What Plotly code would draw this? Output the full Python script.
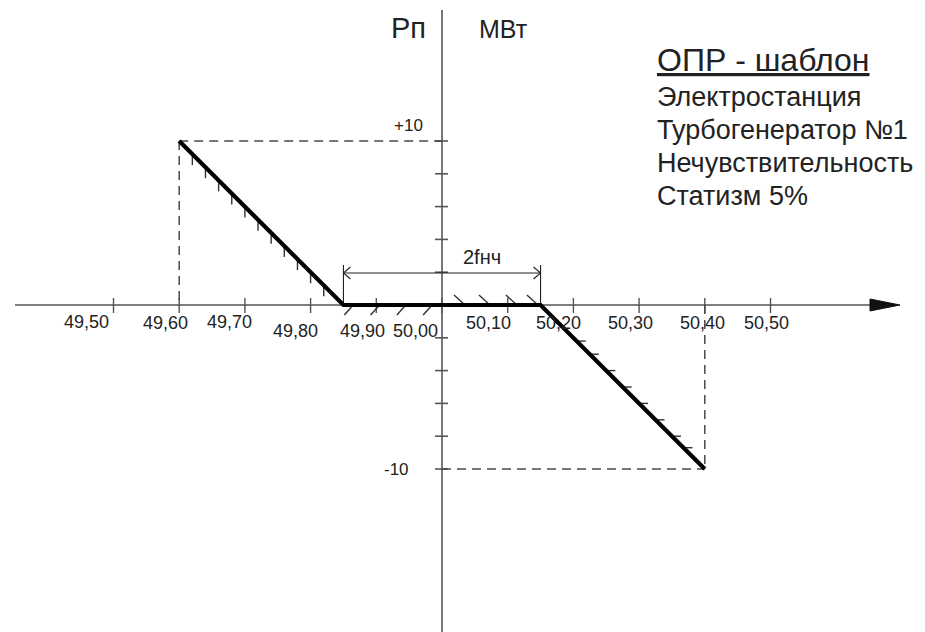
import numpy as np
import plotly.graph_objects as go

# ---------------- data ----------------
freq_ticks = [49.50, 49.60, 49.70, 49.80, 49.90, 50.00, 50.10, 50.20, 50.30, 50.40, 50.50]
freq_labels = ["49,50", "49,60", "49,70", "49,80", "49,90", "50,00",
               "50,10", "50,20", "50,30", "50,40", "50,50"]
power_ticks = [-10, -8, -6, -4, -2, 2, 4, 6, 8, 10]
power_label_vals = [10, -10]
power_label_text = ["+10", "-10"]
curve_f = [49.60, 49.85, 50.15, 50.40]
curve_p = [10, 0, 0, -10]
deadband_label = "2fнч"
axis_symbol = "Pп"
axis_unit = "МВт"
info_title = "ОПР - шаблон"
info_lines = ["Электростанция", "Турбогенератор №1", "Нечувствительность", "Статизм 5%"]

# hatch anchors (on the characteristic)
hatch_left_f = [49.62, 49.64, 49.66, 49.68, 49.70, 49.72, 49.74, 49.76, 49.78, 49.80, 49.82]
hatch_right_p = [-2.2, -3.0, -4.0, -5.0, -6.0, -7.0, -8.0, -8.7]
hatch_flat_below_f = [49.865, 49.905, 49.945, 49.985]
hatch_flat_above_f = [50.035, 50.073, 50.114, 50.146]

# ---------------- geometry / style ----------------
W, H = 925, 632
OFF = 8                              # page body margin
X0_PX, Y0_PX = 442 - OFF, 305 - OFF  # pixel of origin (50.00 Hz, 0 MW) inside figure
PX_PER_HZ = 657.0
PX_PER_MW = 16.4
XR = [50 - X0_PX / PX_PER_HZ, 50 + (W - X0_PX) / PX_PER_HZ]
YR = [-(H - Y0_PX) / PX_PER_MW, Y0_PX / PX_PER_MW]


def dx(px):
    return px / PX_PER_HZ


def dy(px):
    return px / PX_PER_MW


def px_x(px):
    return (px - OFF) / W


def px_y(py):
    return 1 - (py - OFF) / H


FONT = "Liberation Sans, Arial, sans-serif"
AX_COL = "#555555"
DASH_COL = "#4a4a4a"
TXT_COL = "#222222"

label_xshift = [-27, -14, -15, -15, -14, -27, -19, -15, -9, -2, -4]
label_ycenter = [322, 323, 322, 331, 331, 331, 323, 323, 323, 323, 323]

fig = go.Figure()


def seg_trace(xs, ys, color, width, dash="solid"):
    fig.add_trace(go.Scatter(x=xs, y=ys, mode="lines",
                             line=dict(color=color, width=width, dash=dash),
                             hoverinfo="skip", showlegend=False))


# axes
x_axis_start = 50 - dx(442 - 15)
x_tip = 50 + dx(900 - 442)
seg_trace([x_axis_start, x_tip - dx(20)], [0, 0], AX_COL, 1.6)
seg_trace([50, 50], [dy(305 - 10), YR[0]], AX_COL, 1.6)
# arrow head on x axis
fig.add_trace(go.Scatter(x=[x_tip - dx(30), x_tip, x_tip - dx(30), x_tip - dx(30)],
                         y=[dy(6), 0, -dy(6), dy(6)], mode="lines", fill="toself",
                         fillcolor="#111111", line=dict(color="#111111", width=1),
                         hoverinfo="skip", showlegend=False))

# x ticks
xt_x, xt_y = [], []
for f in freq_ticks:
    xt_x += [f, f, None]
    xt_y += [dy(7), -dy(8), None]
seg_trace(xt_x, xt_y, AX_COL, 1.4)
# y ticks
yt_x, yt_y = [], []
for p in power_ticks:
    yt_x += [50 - dx(7), 50 + dx(6), None]
    yt_y += [p, p, None]
seg_trace(yt_x, yt_y, AX_COL, 1.6)

# dashed guide lines
f_hi, p_hi = curve_f[0], curve_p[0]
f_lo, p_lo = curve_f[-1], curve_p[-1]
seg_trace([f_hi, 50], [p_hi, p_hi], DASH_COL, 1.5, "9px,6px")
seg_trace([f_hi, f_hi], [p_hi, 0], DASH_COL, 1.5, "9px,6px")
seg_trace([f_lo, f_lo], [0, p_lo], DASH_COL, 1.5, "9px,6px")
seg_trace([50, f_lo], [p_lo, p_lo], DASH_COL, 1.5, "9px,6px")

# hatching
cf = np.array(curve_f)
cp = np.array(curve_p)
hx, hy = [], []
for f in hatch_left_f:
    p = float(np.interp(f, cf[:2], cp[:2]))
    hx += [f, f, None]
    hy += [p, p - dy(11), None]
for p in hatch_right_p:
    f = float(np.interp(-p, -cp[2:], cf[2:]))
    hx += [f, f + dx(9), None]
    hy += [p, p, None]
for f in hatch_flat_below_f:
    hx += [f, f - dx(9), None]
    hy += [0, -dy(10), None]
for f in hatch_flat_above_f:
    hx += [f, f - dx(11), None]
    hy += [0, dy(10), None]
seg_trace(hx, hy, "#333333", 1.4)

# dimension line for dead band
db_l, db_r = curve_f[1], curve_f[2]
p_dim = dy(32)
seg_trace([db_l, db_l, None, db_r, db_r], [0, dy(40), None, 0, dy(40)], "#222222", 1.1)
seg_trace([db_l, db_r], [p_dim, p_dim], "#222222", 1.1)
seg_trace([db_l + dx(7), db_l, db_l + dx(7), None, db_r - dx(7), db_r, db_r - dx(7)],
          [p_dim + dy(6), p_dim, p_dim - dy(6), None, p_dim + dy(6), p_dim, p_dim - dy(6)],
          "#222222", 1.1)

# main characteristic
seg_trace(curve_f, curve_p, "#000000", 4.2)

annotations = []
# tick labels
for f, lab, xs, yc in zip(freq_ticks, freq_labels, label_xshift, label_ycenter):
    annotations.append(dict(x=f, y=0, xref="x", yref="y", text=lab, showarrow=False,
                            xshift=xs, yshift=-(yc - 305), xanchor="center", yanchor="middle",
                            font=dict(family=FONT, size=18, color=TXT_COL)))
# power labels
for p, lab, xc in zip(power_label_vals, power_label_text, [408, 396]):
    annotations.append(dict(x=50, y=p, xref="x", yref="y", text=lab, showarrow=False,
                            xshift=xc - 442, yshift=16 if p > 0 else 0,
                            xanchor="center", yanchor="middle",
                            font=dict(family=FONT, size=17, color=TXT_COL)))
# axis symbol / unit
annotations.append(dict(x=px_x(408), y=px_y(28), xref="paper", yref="paper", text=axis_symbol,
                        showarrow=False, xanchor="center", yanchor="middle",
                        font=dict(family=FONT, size=29, color=TXT_COL)))
annotations.append(dict(x=px_x(503), y=px_y(29), xref="paper", yref="paper", text=axis_unit,
                        showarrow=False, xanchor="center", yanchor="middle",
                        font=dict(family=FONT, size=25, color=TXT_COL)))
# dead band label
annotations.append(dict(x=(db_l + db_r) / 2, y=p_dim, xref="x", yref="y", text=deadband_label,
                        showarrow=False, xshift=40, yshift=16, xanchor="center", yanchor="middle",
                        font=dict(family=FONT, size=20, color=TXT_COL)))
# info block
annotations.append(dict(x=px_x(655), y=px_y(60), xref="paper", yref="paper",
                        text="<u>" + info_title + "</u>", showarrow=False,
                        xanchor="left", yanchor="middle",
                        font=dict(family=FONT, size=32, color=TXT_COL)))
for i, line in enumerate(info_lines):
    annotations.append(dict(x=px_x(655), y=px_y(97 + 33 * i), xref="paper", yref="paper",
                            text=line, showarrow=False, xanchor="left", yanchor="middle",
                            font=dict(family=FONT, size=27, color=TXT_COL)))

fig.update_layout(
    width=W, height=H,
    margin=dict(l=0, r=0, t=0, b=0),
    paper_bgcolor="white", plot_bgcolor="white",
    xaxis=dict(range=XR, visible=False, fixedrange=True),
    yaxis=dict(range=YR, visible=False, fixedrange=True),
    annotations=annotations,
    showlegend=False,
)

fig.write_html("out.html")
